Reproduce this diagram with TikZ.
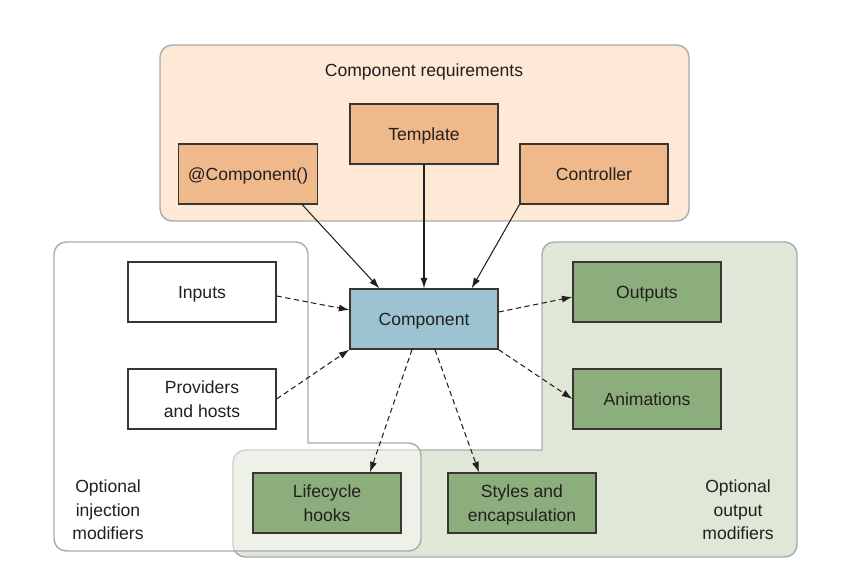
\documentclass[tikz,border=0pt]{standalone}
\usepackage{fontspec}
\setmainfont{Liberation Sans}
\usetikzlibrary{arrows.meta}
\definecolor{reqzone}{HTML}{FDE9D5}
\definecolor{reqbox}{HTML}{F0B98B}
\definecolor{compbox}{HTML}{9DC3D1}
\definecolor{outzone}{HTML}{DFE7D6}
\definecolor{outbox}{HTML}{8BAE7C}
\definecolor{zoneline}{HTML}{ABABAB}
\definecolor{ink}{HTML}{231F20}

\begin{document}
\begin{tikzpicture}[x=0.02cm,y=-0.02cm,
    font=\fontsize{10}{13.4}\selectfont, text=ink,
    >={Latex[length=6pt,width=4pt]},
    box/.style={draw=ink!90,line width=0.7pt,minimum width=2.96cm,
      minimum height=1.2cm,align=center,inner sep=2pt,text depth=0pt},
    zone/.style={draw=zoneline,line width=0.8pt},
    dep/.style={->,line width=0.6pt,draw=ink},
    opt/.style={->,line width=0.6pt,draw=ink,dash pattern=on 3pt off 2pt}]
    \useasboundingbox (0,0) rectangle (854,587);
    % regions
    \draw[zone,fill=reqzone,rounded corners=7pt] (160,45) rectangle (689,221);
    \draw[zone,fill=outzone] (542,450) [rounded corners=7pt] -- (542,242)
      -- (797,242) -- (797,557) -- (233,557) -- (233,450) [sharp corners] -- cycle;
    \draw[zone,fill=white,fill opacity=0.45] (308,443) [rounded corners=7pt] -- (308,242)
      -- (54,242) -- (54,551) -- (421,551) -- (421,443) [sharp corners] -- cycle;
    \node (req) at (424,72) {Component requirements};
    \node [align=center] (inj) at (108,510) {Optional\\injection\\modifiers};
    \node [align=center] (out) at (738,510) {Optional\\output\\modifiers};
    % nodes
    \node [box,fill=reqbox] (tpl) at (424,134) {Template};
    \node [box,fill=reqbox,minimum width=2.78cm] (atc) at (248,174) {@Component()};
    \node [box,fill=reqbox] (ctrl) at (594,174) {Controller};
    \node [box,fill=compbox] (comp) at (424,319) {Component};
    \node [box,fill=white] (inputs) at (202,292) {Inputs};
    \node [box,fill=white] (prov) at (202,399) {Providers\\and hosts};
    \node [box,fill=outbox] (outputs) at (647,292) {Outputs};
    \node [box,fill=outbox] (anim) at (647,399) {Animations};
    \node [box,fill=outbox] (hooks) at (327,503) {Lifecycle\\hooks};
    \node [box,fill=outbox] (styles) at (522,503) {Styles and\\encapsulation};
    % connectors
    \draw[dep] ([xshift=-0.32cm]atc.south east) to ([xshift=0.6cm]comp.north west);
    \draw[dep] (tpl) to (comp);
    \draw[dep] (ctrl.south west) to ([xshift=-0.54cm]comp.north east);
    \draw[opt] ([yshift=-0.08cm]inputs.east) to ([yshift=0.18cm]comp.west);
    \draw[opt] (prov.east) to (comp.south west);
    \draw[opt] ([yshift=0.14cm]comp.east) to ([yshift=-0.1cm]outputs.west);
    \draw[opt] (comp.south east) to (anim.west);
    \draw[opt] ([xshift=-0.24cm]comp.south) to ([xshift=0.86cm]hooks.north);
    \draw[opt] ([xshift=0.22cm]comp.south) to ([xshift=-0.86cm]styles.north);
  \end{tikzpicture}
\end{document}
